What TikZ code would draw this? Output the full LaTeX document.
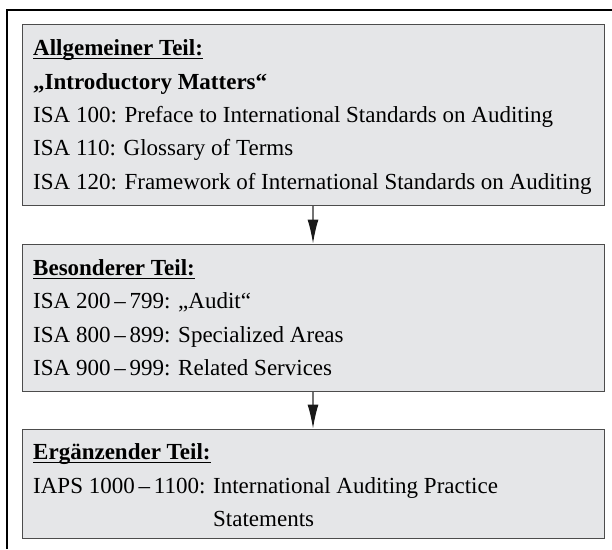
\documentclass[tikz,border=0pt]{standalone}
\usepackage{fontspec}
\setmainfont{Liberation Serif}
\usetikzlibrary{arrows.meta}
\usetikzlibrary{positioning}
\definecolor{boxgray}{HTML}{E5E6E8}
\tikzstyle{partbox}=[draw=black!70,line width=1pt,fill=boxgray,minimum width=582pt,inner sep=0pt]
\tikzstyle{textline}=[anchor=base west,inner sep=0pt,font=\fontsize{23}{28}\selectfont]
\tikzstyle{headline}=[textline,font=\fontsize{23}{28}\selectfont\bfseries]
\tikzstyle{edge}=[draw=black!55,line width=1.2pt,-{Latex[length=24pt,width=11pt,color=black!90]}]
\tikzstyle{uline}=[draw,line width=1.1pt]

\begin{document}
\begin{tikzpicture}[x=1pt,y=1pt]
    \useasboundingbox (0,0) rectangle (612,-549);
    % outer frame (only top and left edge visible)
    \draw[line width=1.2pt] (7,-549) -- (7,-10) -- (612,-10);

    % First the three boxes
    \foreach \pos/\h/\name in {{(313,-114.5)/181/allg}, {(313,-317.5)/147/bes}, {(313,-483.5)/109/erg}}
        \node[partbox, minimum height=\h pt] (\name) at \pos {};

    % headings, underlined
    \foreach \y/\txt/\name in {-55/{Allgemeiner Teil:}/allghead, -275/{Besonderer Teil:}/beshead, -459/{Ergänzender Teil:}/erghead}
    {
        \node[headline] (\name) at (33,\y) {\txt};
        \path[uline] ([yshift=-3.5pt]\name.base west) -- ([yshift=-3.5pt]\name.base east);
    }

    \node[headline] (allgsub) at (33,-89) {„Introductory Matters“};
    \foreach \y/\txt [count=\i] in {-122/{ISA 100: Preface to International Standards on Auditing}, -155/{ISA 110: Glossary of Terms}, -189/{ISA 120: Framework of International Standards on Auditing}}
        \node[textline] (allg\i) at (33,\y) {\txt};

    \foreach \y/\txt [count=\i] in {-308/{ISA 200\,–\,799: „Audit“}, -342/{ISA 800\,–\,899: Specialized Areas}, -375/{ISA 900\,–\,999: Related Services}}
        \node[textline] (bes\i) at (33,\y) {\txt};

    \node[textline] (erg1) at (33,-493) {IAPS 1000\,–\,1100: International Auditing Practice};
    \node[textline] (erg2) at (33,-526) {\phantom{IAPS 1000\,–\,1100: }Statements};

    % Connect the boxes
    \path[edge] (allg.south) -- (bes.north);
    \path[edge] (bes.south) -- (erg.north);
\end{tikzpicture}
\end{document}
